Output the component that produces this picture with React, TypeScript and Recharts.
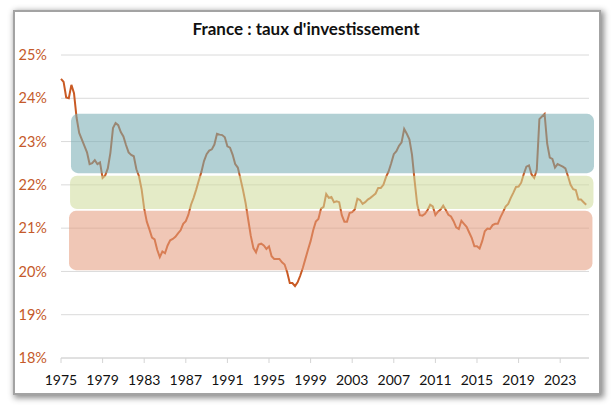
import { LineChart, Line, XAxis, YAxis, CartesianGrid, ReferenceArea } from "recharts";

// investment rate, % of GDP, quarterly from 1975 Q1
const START_YEAR = 1975;
const rates1975 = [
  24.45, 24.38, 24.02, 24.0,
  24.31, 24.12, 23.55, 23.2,
  23.05, 22.9, 22.75, 22.48,
  22.5, 22.57, 22.48, 22.52,
  22.16, 22.22, 22.38, 22.74,
  23.31, 23.43, 23.38, 23.22,
  23.12, 22.92, 22.75, 22.69,
  22.66, 22.36, 22.2, 21.9,
  21.45, 21.15, 20.97, 20.78,
  20.74, 20.5, 20.33, 20.46,
];
const rates1985 = [
  20.42, 20.6, 20.72, 20.75,
  20.8, 20.88, 20.95, 21.1,
  21.16, 21.31, 21.54, 21.7,
  21.89, 22.1, 22.3, 22.55,
  22.71, 22.79, 22.82, 22.93,
  23.18, 23.16, 23.15, 23.1,
  22.89, 22.86, 22.7, 22.48,
  22.4, 22.15, 21.88, 21.58,
  21.2, 20.82, 20.54, 20.44,
  20.62, 20.64, 20.6, 20.52,
];
const rates1995 = [
  20.58, 20.35, 20.29, 20.29,
  20.29, 20.21, 20.16, 19.98,
  19.73, 19.73, 19.66, 19.75,
  19.9, 20.08, 20.29, 20.5,
  20.7, 20.95, 21.15, 21.21,
  21.45, 21.49, 21.79, 21.7,
  21.72, 21.6, 21.62, 21.6,
  21.3, 21.15, 21.15, 21.35,
  21.37, 21.43, 21.68, 21.65,
  21.56, 21.6, 21.66, 21.7,
];
const rates2005 = [
  21.75, 21.8, 21.93, 21.93,
  22.0, 22.18, 22.31, 22.5,
  22.71, 22.78, 22.9, 22.98,
  23.29, 23.18, 23.05, 22.7,
  22.1, 21.55, 21.3, 21.29,
  21.33, 21.42, 21.54, 21.5,
  21.3, 21.38, 21.43, 21.52,
  21.42, 21.31, 21.27, 21.16,
  21.02, 20.98, 21.17, 21.1,
  21.03, 20.9, 20.77, 20.58,
];
const rates2015 = [
  20.58, 20.53, 20.7, 20.93,
  20.99, 20.98, 21.07, 21.1,
  21.1, 21.25, 21.37, 21.5,
  21.56, 21.7, 21.82, 21.95,
  21.96, 22.05, 22.25, 22.42,
  22.45, 22.24, 22.16, 22.35,
  23.52, 23.58, 23.64, 22.95,
  22.63, 22.6, 22.4, 22.48,
  22.45, 22.42, 22.38, 22.2,
  22.0, 21.9, 21.88, 21.66,
  21.66, 21.6, 21.54,
];

const yearTicks = [1975, 1979, 1983, 1987, 1991, 1995, 1999, 2003, 2007, 2011, 2015, 2019, 2023];
const pctTicks = [18, 19, 20, 21, 22, 23, 24, 25];

// shaded regimes
const bands = [
  { from: 1975.96, to: 2026.25, low: 22.27, high: 23.64, fill: "#76acb2" },
  { from: 1975.87, to: 2026.2, low: 21.44, high: 22.21, fill: "#cedc9b" },
  { from: 1975.77, to: 2026.1, low: 20.03, high: 21.4, fill: "#e49b7c" },
];

const data = [...rates1975, ...rates1985, ...rates1995, ...rates2005, ...rates2015].map((v, i) => ({
  t: START_YEAR + i / 4,
  v,
}));

const font = "Lato, 'Open Sans', sans-serif";

export default function App() {
  return (
    <div style={{ position: "absolute", left: 0, top: 0, width: 612, height: 405, background: "#fff", fontFamily: font }}>
      <div
        style={{
          position: "absolute",
          left: 13,
          top: 10,
          width: 584,
          height: 381,
          border: "2px solid #a3a3a3",
          boxShadow: "2px 2px 6px 1px rgba(0,0,0,0.45)",
          background: "#fff",
        }}
      />
      <div
        style={{
          position: "absolute",
          left: 13,
          top: 19,
          width: 586,
          textAlign: "center",
          fontSize: 17,
          lineHeight: "20px",
          fontWeight: 700,
          color: "#111",
        }}
      >
        France : taux d'investissement
      </div>
      <div style={{ position: "absolute", left: 0, top: 0 }}>
        <LineChart width={612} height={405} data={data} margin={{ top: 55, right: 23, left: 0, bottom: 17 }}>
          <CartesianGrid vertical={false} stroke="#dadada" />
          <XAxis
            dataKey="t"
            type="number"
            domain={[1975, 2025.77]}
            ticks={yearTicks}
            height={30}
            tick={{ fontSize: 14, fill: "#111", fontFamily: font }}
            stroke="#d4d4d4"
            tickSize={5}
            tickMargin={12}
          />
          <YAxis
            type="number"
            domain={[18, 25]}
            ticks={pctTicks}
            width={61}
            axisLine={false}
            tickLine={false}
            tickSize={6}
            tickMargin={8}
            tickFormatter={(v: number) => `${v}%`}
            tick={{ fontSize: 14.5, fill: "#c55a2a", fontFamily: font }}
          />
          <Line
            type="linear"
            dataKey="v"
            stroke="#c95a24"
            strokeWidth={2}
            dot={false}
            isAnimationActive={false}
          />
          {bands.map((b) => (
            <ReferenceArea
              key={b.fill}
              x1={b.from}
              x2={b.to}
              y1={b.low}
              y2={b.high}
              ifOverflow="visible"
              zIndex={450}
              shape={(p: any) => (
                <rect x={p.x} y={p.y} width={p.width} height={p.height} rx={7} ry={7} fill={b.fill} fillOpacity={0.56} />
              )}
            />
          ))}
        </LineChart>
      </div>
    </div>
  );
}
